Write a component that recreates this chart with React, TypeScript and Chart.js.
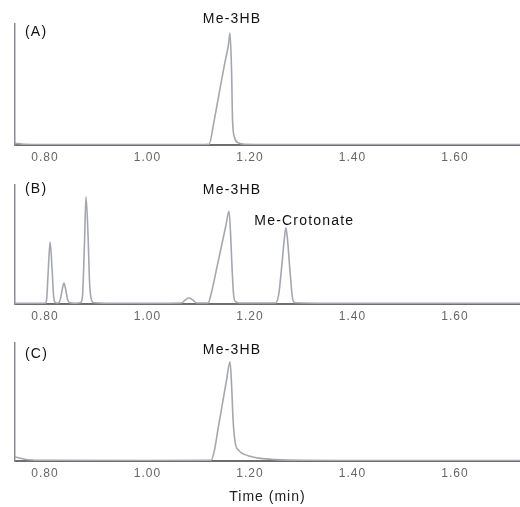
import { useEffect, useRef } from "react";
import { Chart, registerables } from "chart.js";

Chart.register(...registerables);

// Axis range (minutes) and tick labels
const X_MIN = 0.7415;
const X_MAX = 1.7268;
const tickValues = [0.8, 1.0, 1.2, 1.4, 1.6];
const axisTitle = "Time (min)";

// Chromatogram traces: [time (min), relative intensity]
const traceA: [number, number][] = [
  [0.7415, 1.5], [0.76, 0.5], [0.8, 0.3], [1.0, 0.3], [1.1, 0.3],
  [1.12, 0.5], [1.13, 20], [1.14, 43], [1.15, 66], [1.158, 83],
  [1.161, 92.6], [1.164, 62], [1.166, 20], [1.17, 6], [1.178, 1.6],
  [1.19, 0.6], [1.3, 0.3], [1.7268, 0.3],
];

const traceB: [number, number][] = [
  [0.7415, 0.5], [0.8, 0.5], [0.803, 3], [0.806, 25], [0.81, 52],
  [0.814, 28], [0.817, 6], [0.821, 1], [0.826, 0.8], [0.83, 4],
  [0.834, 13], [0.837, 17.6], [0.84, 13], [0.844, 4], [0.848, 1],
  [0.86, 0.6], [0.869, 1], [0.873, 6], [0.877, 50], [0.88, 90],
  [0.884, 58], [0.887, 18], [0.891, 3], [0.896, 1], [0.95, 0.5],
  [1.066, 0.8], [1.074, 3.5], [1.081, 5], [1.088, 3.5], [1.096, 0.8],
  [1.118, 0.8], [1.125, 10], [1.135, 30], [1.145, 50], [1.153, 66],
  [1.159, 78], [1.162, 60], [1.165, 30], [1.168, 8], [1.172, 2],
  [1.18, 0.8], [1.25, 0.8], [1.256, 8], [1.262, 32], [1.267, 55],
  [1.27, 64], [1.273, 55], [1.278, 28], [1.283, 5], [1.288, 1],
  [1.4, 0.5], [1.7268, 0.5],
];

const traceC: [number, number][] = [
  [0.7415, 3.5], [0.75, 2.5], [0.76, 1.5], [0.775, 0.8], [0.8, 0.5],
  [1.0, 0.3], [1.124, 0.5], [1.13, 8], [1.138, 28], [1.146, 48],
  [1.154, 68], [1.161, 84], [1.164, 65], [1.167, 35], [1.171, 16],
  [1.178, 9], [1.187, 6], [1.2, 4], [1.22, 2.2], [1.25, 1.2],
  [1.3, 0.6], [1.4, 0.4], [1.7268, 0.3],
];

type PeakLabel = { text: string; time: number; level: number };

const labelsA: PeakLabel[] = [{ text: "Me-3HB", time: 1.165, level: 104 }];
const labelsB: PeakLabel[] = [
  { text: "Me-3HB", time: 1.165, level: 95.8 },
  { text: "Me-Crotonate", time: 1.306, level: 69.7 },
];
const labelsC: PeakLabel[] = [{ text: "Me-3HB", time: 1.165, level: 94 }];

const FONT = "'Liberation Sans', Arial, Helvetica, sans-serif";

const labelPlugin = {
  id: "peakLabels",
  beforeDraw(chart: any) {
    chart.ctx.letterSpacing = "1px";
  },
  afterDraw(chart: any, _args: any, opts: any) {
    const ctx = chart.ctx as CanvasRenderingContext2D & { letterSpacing: string };
    const xs = chart.scales.x;
    const ys = chart.scales.y;
    ctx.save();
    ctx.letterSpacing = "1.2px";
    ctx.fillStyle = "#111";
    ctx.font = `14px ${FONT}`;
    ctx.textAlign = "center";
    ctx.textBaseline = "middle";
    for (const l of opts.labels as PeakLabel[]) {
      ctx.fillText(l.text, xs.getPixelForValue(l.time), ys.getPixelForValue(l.level));
    }
    ctx.textAlign = "left";
    ctx.fillText(opts.panel, chart.chartArea.left + 10, ys.getPixelForValue(opts.panelLevel));
    ctx.restore();
    ctx.letterSpacing = "0px";
  },
};

type PanelProps = {
  top: number;
  height: number;
  padTop: number;
  axisH: number;
  trace: [number, number][];
  labels: PeakLabel[];
  panel: string;
  panelLevel: number;
  showTitle?: boolean;
};

function Panel({ top, height, padTop, axisH, trace, labels, panel, panelLevel, showTitle }: PanelProps) {
  const ref = useRef<HTMLCanvasElement>(null);
  useEffect(() => {
    const chart = new Chart(ref.current!, {
      type: "line",
      data: {
        datasets: [
          {
            data: trace.map(([x, y]) => ({ x, y })),
            borderColor: "#a5a7b0",
            borderWidth: 1.6,
            pointRadius: 0,
            cubicInterpolationMode: "monotone",
            fill: false,
          },
        ],
      },
      options: {
        animation: false,
        responsive: false,
        layout: { padding: { top: padTop, left: 0, right: 0, bottom: 0 } },
        plugins: {
          legend: { display: false },
          tooltip: { enabled: false },
          peakLabels: { labels, panel, panelLevel },
        } as any,
        scales: {
          x: {
            type: "linear",
            min: X_MIN,
            max: X_MAX,
            z: 1,
            afterBuildTicks: (s: any) => {
              s.ticks = tickValues.map((v) => ({ value: v }));
            },
            afterFit: (s: any) => {
              s.height = axisH;
            },
            grid: { display: false, drawTicks: false },
            border: { display: true, color: "#6e6e6e", width: 2 },
            ticks: {
              autoSkip: false,
              maxRotation: 0,
              padding: 5,
              color: "#666",
              font: { family: FONT, size: 12 },
              callback: (v: any) => Number(v).toFixed(2),
            },
            title: showTitle
              ? {
                  display: true,
                  text: axisTitle,
                  color: "#222",
                  font: { family: FONT, size: 14 },
                  padding: { top: 0, bottom: 1 },
                }
              : { display: false },
          },
          y: {
            min: 0,
            max: 100,
            afterFit: (s: any) => {
              s.width = 15;
            },
            grid: { display: false, drawTicks: false },
            ticks: { display: false },
            border: { display: true, color: "#8c8c96", width: 1.5 },
          },
        },
      },
      plugins: [labelPlugin as any],
    });
    return () => chart.destroy();
  }, []);
  return (
    <div style={{ position: "absolute", left: 0, top, width: 520, height }}>
      <canvas ref={ref} width={520} height={height} style={{ display: "block" }} />
    </div>
  );
}

export default function App() {
  return (
    <div style={{ position: "absolute", left: 0, top: 0, width: 520, height: 507, background: "#fff", overflow: "hidden" }}>
      <Panel top={0} height={175} padTop={24} axisH={30} trace={traceA} labels={labelsA} panel="(A)" panelLevel={93} />
      <Panel top={160} height={175} padTop={25} axisH={31} trace={traceB} labels={labelsB} panel="(B)" panelLevel={96.6} />
      <Panel top={320} height={187} padTop={23} axisH={46} trace={traceC} labels={labelsC} panel="(C)" panelLevel={90.7} showTitle />
    </div>
  );
}
